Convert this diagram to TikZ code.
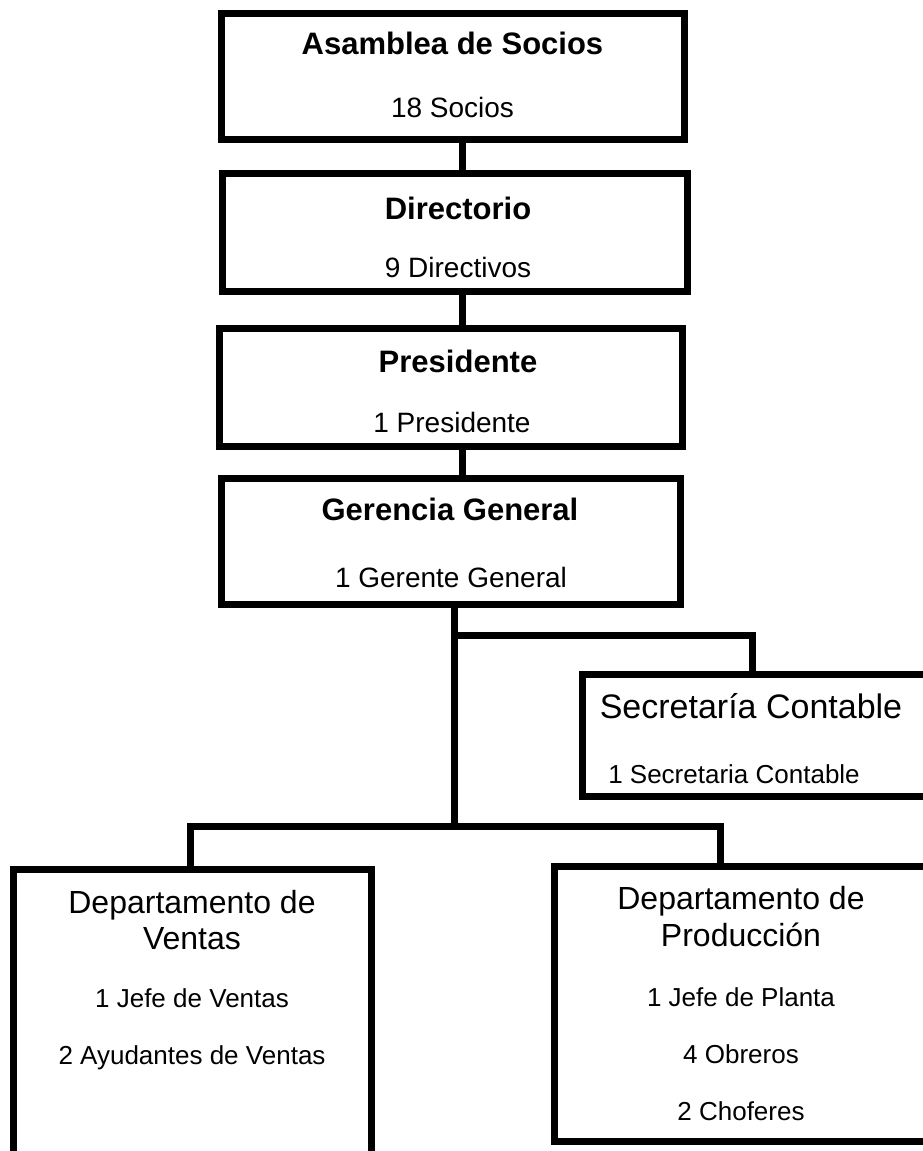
\documentclass[tikz,border=0pt]{standalone}
\usepackage{fontspec}
\setmainfont{Liberation Sans}
\begin{document}
\begin{tikzpicture}[x=1pt,y=-1pt,
  box/.style={draw=black, line width=7pt, rectangle, inner sep=0pt},
  link/.style={draw=black, line width=7pt, line join=miter},
  tHead/.style={font=\bfseries\fontsize{31}{37}\selectfont, anchor=base, inner sep=0pt},
  tSub/.style={font=\fontsize{28}{34}\selectfont, anchor=base, inner sep=0pt},
  tDept/.style={font=\fontsize{32}{37}\selectfont, anchor=base, inner sep=0pt},
  tItem/.style={font=\fontsize{26}{30}\selectfont, anchor=base, inner sep=0pt}]
\useasboundingbox (0,0) rectangle (923,1151);
\clip (0,0) rectangle (923,1151);

% boxes of the chart
\node[box, minimum width=463pt, minimum height=126pt]   (asamblea)   at (452.5,76) {};
\node[box, minimum width=465pt, minimum height=117.5pt] (directorio) at (454.5,232.25) {};
\node[box, minimum width=463pt, minimum height=118pt]   (presidente) at (450.5,387) {};
\node[box, minimum width=459pt, minimum height=126pt]   (gerencia)   at (450.5,541) {};
\node[box, minimum width=360pt, minimum height=121.5pt] (secretaria) at (762,735.25) {};
\node[box, minimum width=358pt, minimum height=330pt]   (ventas)     at (192,1034) {};
\node[box, minimum width=381pt, minimum height=275pt]   (produccion) at (744.5,1003.5) {};

% texts
\node[tHead] (tA1) at (452.5,54)  {Asamblea de Socios};
\node[tSub]  (tA2) at (452.5,117) {18 Socios};
\node[tHead] (tD1) at (458,219)   {Directorio};
\node[tSub]  (tD2) at (458,277)   {9 Directivos};
\node[tHead] (tP1) at (458,372)   {Presidente};
\node[tSub]  (tP2) at (452,432)   {1 Presidente};
\node[tHead] (tG1) at (450,520)   {Gerencia General};
\node[tSub]  (tG2) at (451,587)   {1 Gerente General};
\node[font=\fontsize{34}{40}\selectfont, anchor=base, inner sep=0pt] (tS1) at (751,718) {Secretaría Contable};
\node[tItem] (tS2) at (734,783)   {1 Secretaria Contable};
\node[tDept] (tV1) at (192,913)   {Departamento de};
\node[tDept] (tV2) at (192,949)   {Ventas};
\node[tItem] (tV3) at (192,1007)  {1 Jefe de Ventas};
\node[tItem] (tV4) at (192,1064)  {2 Ayudantes de Ventas};
\node[tDept] (tR1) at (741,909)   {Departamento de};
\node[tDept] (tR2) at (741,946)   {Producción};
\node[tItem] (tR3) at (741,1006)  {1 Jefe de Planta};
\node[tItem] (tR4) at (741,1063)  {4 Obreros};
\node[tItem] (tR5) at (741,1120)  {2 Choferes};

% connector positions
\coordinate (xTop)   at (462,0);
\coordinate (xTrunk) at (454,0);
\coordinate (xSec)   at (752,0);
\coordinate (xLeft)  at (190.5,0);
\coordinate (xRight) at (720,0);
\coordinate (ySec)   at (0,635);
\coordinate (trunkEnd) at (454,826.5);

% connectors
\draw[link] (asamblea.south -| xTop) -- (directorio.north -| xTop);
\draw[link] (directorio.south -| xTop) -- (presidente.north -| xTop);
\draw[link] (presidente.south -| xTop) -- (gerencia.north -| xTop);
\draw[link] (gerencia.south -| xTrunk) -- (trunkEnd);
\draw[link] (xTrunk |- ySec) -- (xSec |- ySec) -- (secretaria.north -| xSec);
\draw[link] (ventas.north -| xLeft) -- (xLeft |- trunkEnd) -- (xRight |- trunkEnd) -- (produccion.north -| xRight);
\end{tikzpicture}
\end{document}
